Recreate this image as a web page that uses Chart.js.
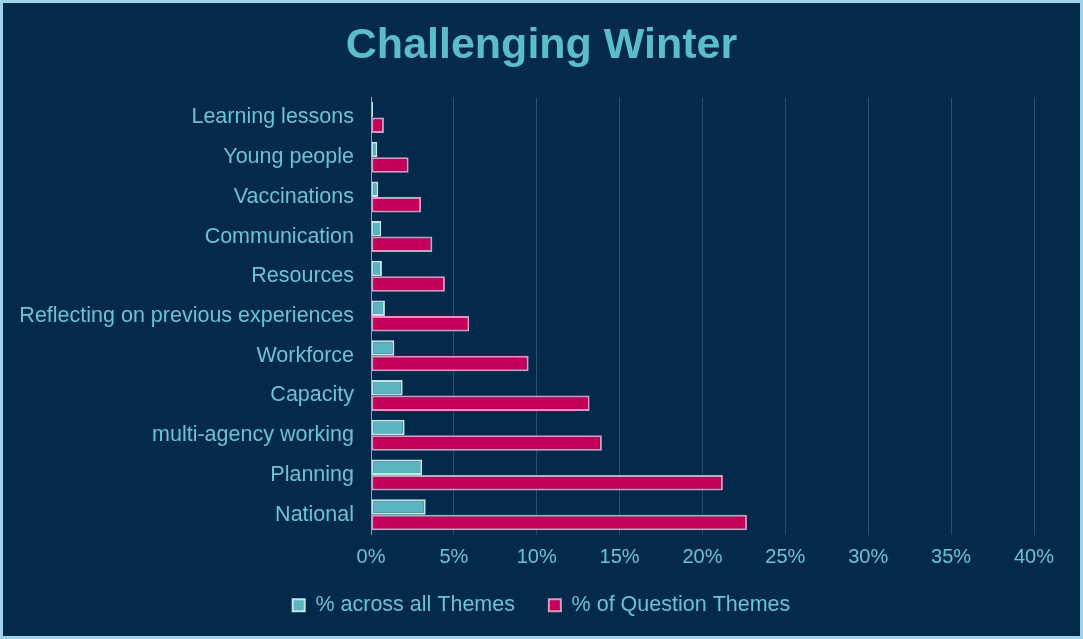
<!DOCTYPE html>
<html>
<head>
<meta charset="utf-8">
<title>Challenging Winter</title>
<script src="https://cdn.jsdelivr.net/npm/chart.js@4"></script>
<style>
  html, body { margin: 0; padding: 0; background: #032a4a; }
  #frame {
    position: absolute; left: 0; top: 0;
    width: 1083px; height: 639px;
    box-sizing: border-box;
    border: 3px solid #9fd3ec;
    background: #032a4a;
  }
  #chart { display: block; }
</style>
</head>
<body>
<div id="frame"><canvas id="chart" width="1077" height="633"></canvas></div>
<script>
// Categories, top to bottom
const themes = [
    'Learning lessons',
    'Young people',
    'Vaccinations',
    'Communication',
    'Resources',
    'Reflecting on previous experiences',
    'Workforce',
    'Capacity',
    'multi-agency working',
    'Planning',
    'National',
];

// Values in percent
const acrossAllThemes = [0.12, 0.38, 0.44, 0.62, 0.66, 0.84, 1.41, 1.91, 2.03, 3.09, 3.30];
const ofQuestionThemes = [0.78, 2.27, 3.02, 3.70, 4.46, 5.93, 9.51, 13.19, 13.93, 21.23, 22.68];

// Axis ticks
const xTicks = [0, 5, 10, 15, 20, 25, 30, 35, 40];

const textColor = '#6cc2d2';
const font = 'Liberation Sans, Arial, sans-serif';

const ctx = document.getElementById('chart').getContext('2d');
new Chart(ctx, {
    type: 'bar',
    data: {
        labels: themes,
        datasets: [
            {
                label: '% across all Themes',
                data: acrossAllThemes,
                backgroundColor: '#5ab4c2',
                borderColor: '#c4e4ea',
                borderWidth: 2,
                borderSkipped: false,
                categoryPercentage: 0.78,
                barPercentage: 1.0,
            },
            {
                label: '% of Question Themes',
                data: ofQuestionThemes,
                backgroundColor: '#c4005a',
                borderColor: '#d89bbf',
                borderWidth: 2,
                borderSkipped: false,
                categoryPercentage: 0.78,
                barPercentage: 1.0,
            },
        ],
    },
    options: {
        indexAxis: 'y',
        responsive: false,
        animation: false,
        layout: { padding: { left: 0, right: 0, top: 0, bottom: 10 } },
        plugins: {
            title: {
                display: true,
                text: 'Challenging Winter',
                color: '#5bbccc',
                font: { family: font, size: 43, weight: 'bold' },
                padding: { top: 17, bottom: 26 },
            },
            legend: {
                position: 'bottom',
                labels: {
                    color: textColor,
                    font: { family: font, size: 21.5 },
                    boxWidth: 12,
                    boxHeight: 12,
                    padding: 10,
                    // wider gap after the first entry, as in the original
                    generateLabels: (chart) =>
                        Chart.defaults.plugins.legend.labels.generateLabels(chart)
                            .map((item, i) => ({ ...item, text: i === 0 ? item.text + '    ' : item.text })),
                },
            },
            tooltip: { enabled: false },
        },
        scales: {
            x: {
                min: 0,
                max: 40,
                afterBuildTicks: (scale) => {
                    scale.ticks = xTicks.map(v => ({ value: v }));
                },
                afterFit: (scale) => { scale.height = 50; },
                ticks: {
                    color: textColor,
                    font: { family: font, size: 20 },
                    padding: 11,
                    callback: (v) => v + '%',
                },
                grid: { color: 'rgba(110,145,175,0.35)', lineWidth: 1, drawTicks: false },
                border: { display: false },
            },
            y: {
                afterFit: (scale) => { scale.width = 368; },
                ticks: {
                    color: textColor,
                    font: { family: font, size: 21.5 },
                    padding: 17,
                },
                grid: { display: false, drawTicks: false },
                border: { display: true, color: '#8aa3b8', width: 1 },
            },
            // empty right-hand spacer so title and legend stay centred on the canvas
            yRight: {
                type: 'category',
                position: 'right',
                labels: themes,
                afterFit: (scale) => { scale.width = 46; },
                ticks: { display: false },
                grid: { display: false, drawTicks: false },
                border: { display: false },
            },
        },
    },
});
</script>
</body>
</html>
